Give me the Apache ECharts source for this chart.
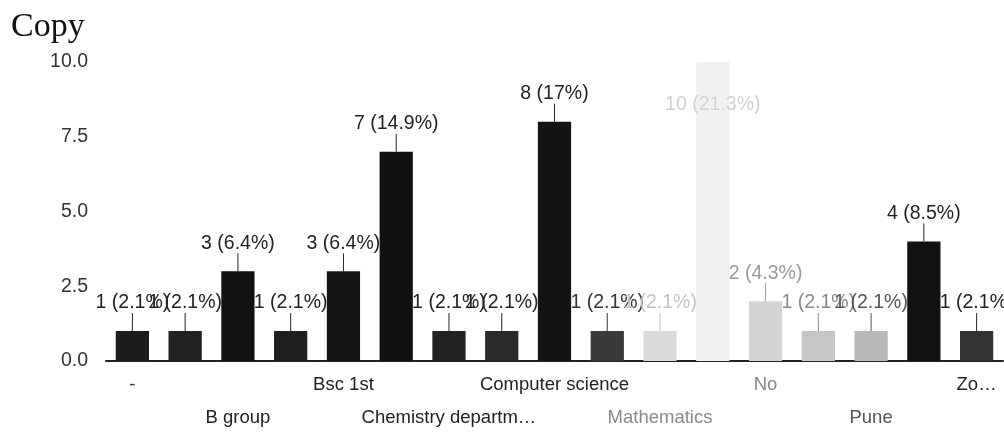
<!DOCTYPE html>
<html>
<head>
<meta charset="utf-8">
<script src="https://cdn.jsdelivr.net/npm/echarts@6/dist/echarts.min.js"></script>
<style>
  html, body { margin: 0; padding: 0; background: #fff; }
  #chart { width: 1004px; height: 436px; }
</style>
</head>
<body>
<div id="chart"></div>
<script>
// ---- data ----
const chartTitle = 'Copy';
// every second category name is hidden in the original (alphabetical order)
const categories = ['-', '', 'B group', '', 'Bsc 1st', '', 'Chemistry departm…', '', 'Computer science', '', 'Mathematics', '', 'No', '', 'Pune', '', 'Zo…'];
const counts = [1, 1, 3, 1, 3, 7, 1, 1, 8, 1, 1, 10, 2, 1, 1, 4, 1];
const percents = ['2.1%', '2.1%', '6.4%', '2.1%', '6.4%', '14.9%', '2.1%', '2.1%', '17%', '2.1%', '2.1%', '21.3%', '4.3%', '2.1%', '2.1%', '8.5%', '2.1%'];
const yTicks = [0, 2.5, 5, 7.5, 10];

// ---- styles (photocopy shading) ----
const barColors = ['#1c1c1c', '#222222', '#121212', '#1f1f1f', '#161616', '#111111', '#222222', '#2a2a2a', '#141414', '#3a3a3a',
                   '#dadada', '#f0f0f0', '#d4d4d4', '#c6c6c6', '#b9b9b9', '#121212', '#333333'];
const labelColors = ['#222', '#222', '#222', '#222', '#222', '#222', '#222', '#222', '#222', '#333',
                     '#c4c4c4', '#d2d2d2', '#9a9a9a', '#8a8a8a', '#555', '#222', '#222'];
const axisLabelColors = ['#333', '', '#222', '', '#222', '', '#222', '', '#222', '', '#8a8a8a', '', '#888', '', '#555', '', '#222'];

const FONT = "'Liberation Sans', Arial, sans-serif";
const chart = echarts.init(document.getElementById('chart'), null, { renderer: 'canvas' });

const labelData = counts.map((v, i) => [i, v, v + ' (' + percents[i] + ')']);
const yMax = yTicks[yTicks.length - 1];

chart.setOption({
  animation: false,
  backgroundColor: '#ffffff',
  title: {
    text: chartTitle,
    left: 6, top: 5,
    textStyle: { fontFamily: "'Liberation Serif', 'Times New Roman', serif", fontSize: 34, fontWeight: 'normal', color: '#111' }
  },
  grid: { left: 106, right: 1, top: 62, bottom: 75, containLabel: false },
  xAxis: {
    type: 'category',
    data: categories,
    axisLine: { show: true, lineStyle: { color: '#222', width: 2 } },
    axisTick: { show: false },
    axisLabel: {
      interval: 0,
      margin: 7,
      fontFamily: FONT,
      fontSize: 18.5,
      lineHeight: 33,
      color: (v, i) => axisLabelColors[i] || '#222',
      formatter: (v, i) => (i % 2 === 1) ? '' : (i % 4 === 0 ? v : '\n' + v)
    }
  },
  yAxis: {
    type: 'value',
    min: 0, max: yMax, interval: 2.5,
    splitLine: { show: false },
    axisLine: { show: false },
    axisTick: { show: false },
    axisLabel: {
      margin: 18,
      fontFamily: FONT,
      fontSize: 19.5,
      color: '#333',
      formatter: v => v.toFixed(1)
    }
  },
  series: [
    {
      type: 'bar',
      data: counts.map((v, i) => ({ value: v, itemStyle: { color: barColors[i] } })),
      barCategoryGap: '37%',
      silent: true
    },
    {
      type: 'custom',
      data: labelData,
      silent: true,
      z: 5,
      renderItem: (params, api) => {
        const i = api.value(0);
        const v = api.value(1);
        const p = api.coord([i, v]);
        const col = labelColors[i];
        const txt = labelData[i][2];
        if (v >= yMax) {
          // no room above: annotation drawn inside the bar
          return {
            type: 'text',
            style: { text: txt, x: p[0], y: p[1] + 43, align: 'center', verticalAlign: 'middle',
                     font: '19.5px ' + FONT, fill: col }
          };
        }
        return {
          type: 'group',
          children: [
            { type: 'line', shape: { x1: p[0], y1: p[1], x2: p[0], y2: p[1] - 18 },
              style: { stroke: col, lineWidth: 1 } },
            { type: 'text', style: { text: txt, x: p[0], y: p[1] - 18, align: 'center', verticalAlign: 'bottom',
                     font: '19.5px ' + FONT, fill: col } }
          ]
        };
      }
    }
  ]
});
</script>
</body>
</html>
